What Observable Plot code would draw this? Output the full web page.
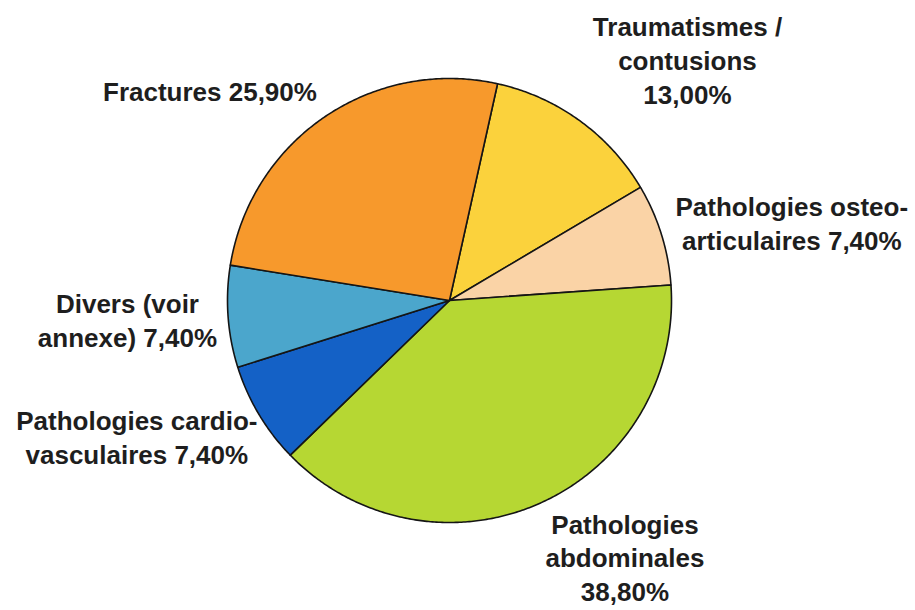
<!DOCTYPE html>
<html>
<head>
<meta charset="utf-8">
<script src="https://cdn.jsdelivr.net/npm/d3@7"></script>
<script src="https://cdn.jsdelivr.net/npm/@observablehq/plot@0.6"></script>
<style>
  html, body { margin: 0; padding: 0; background: #ffffff; }
</style>
</head>
<body>
<div id="chart"></div>
<script>
// ---- data ----
const categories = [
  "Traumatismes / contusions",
  "Pathologies osteo-articulaires",
  "Pathologies abdominales",
  "Pathologies cardio-vasculaires",
  "Divers (voir annexe)",
  "Fractures"
];
const values = [13.0, 7.4, 38.8, 7.4, 7.4, 25.9];
const labelNames = [
  "Traumatismes /\ncontusions",
  "Pathologies osteo-\narticulaires",
  "Pathologies\nabdominales",
  "Pathologies cardio-\nvasculaires",
  "Divers (voir\nannexe)",
  "Fractures"
];
const labelSeparators = ["\n", " ", "\n", " ", " ", " "];
const colors = ["#fbd23c", "#fad3a6", "#b6d733", "#1461c6", "#4ba6cc", "#f7992c"];

// ---- layout (not data) ----
const startDeg = 12.5;
const labelAngleShift = [8.7, 4.4, -10.35, 7.4, 0.9, -14.5];
const labelRadius = [1.526, 1.582, 1.398, 1.535, 1.453, 1.437];

const rad = d => d * Math.PI / 180;
const pie = d3.pie().sort(null).value(d => d.value)
  .startAngle(rad(startDeg)).endAngle(rad(startDeg + 360));
const arcs = pie(categories.map((c, i) => ({cat: c, value: values[i], i})));

const polyPoints = [];
arcs.forEach(a => {
  const cat = a.data.cat;
  polyPoints.push({cat, x: 0, y: 0});
  const span = a.endAngle - a.startAngle;
  const n = Math.max(2, Math.ceil(span / rad(0.5)));
  for (let k = 0; k <= n; k++) {
    const t = a.startAngle + span * k / n;
    polyPoints.push({cat, x: Math.sin(t), y: Math.cos(t)});
  }
});

const fmt = v => d3.format(".2f")(v).replace(".", ",") + "%";
const labelData = arcs.map(a => {
  const i = a.data.i;
  const mid = (a.startAngle + a.endAngle) / 2 + rad(labelAngleShift[i]);
  return {
    text: labelNames[i] + labelSeparators[i] + fmt(values[i]),
    x: labelRadius[i] * Math.sin(mid),
    y: labelRadius[i] * Math.cos(mid)
  };
});

const R = 222, cx = 449, cy = 300, W = 915, H = 610;

const chart = Plot.plot({
  width: W,
  height: H,
  margin: 0,
  style: {background: "#ffffff", fontFamily: "'Liberation Sans', Arial, Helvetica, sans-serif"},
  x: {domain: [-cx / R, (W - cx) / R], axis: null},
  y: {domain: [-(H - cy) / R, cy / R], axis: null},
  color: {domain: categories, range: colors},
  marks: [
    Plot.line(polyPoints, {
      x: "x", y: "y", z: "cat", fill: "cat",
      stroke: "#151515", strokeWidth: 1.6, strokeLinejoin: "round",
      curve: "linear-closed"
    }),
    Plot.text(labelData, {
      x: "x", y: "y", text: "text",
      fontSize: 26, fontWeight: "bold", fill: "#1e1e1e",
      textAnchor: "middle", lineAnchor: "middle", lineHeight: 1.3
    })
  ]
});
document.getElementById("chart").appendChild(chart);
</script>
</body>
</html>
